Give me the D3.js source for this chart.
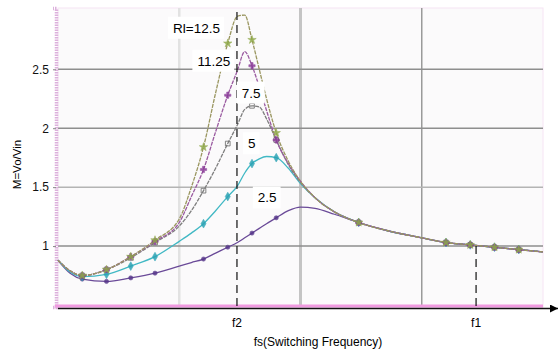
<!DOCTYPE html>
<html lang="en">
<head>
<meta charset="UTF-8">
<title>M vs fs</title>
<script src="https://cdn.jsdelivr.net/npm/d3@7"></script>
<style>
  body { margin: 0; background: #fff; }
  svg { display: block; font-family: "Liberation Sans", Arial, sans-serif; }
</style>
</head>
<body>
<svg width="558" height="354"></svg>
<script>
// normalised switching frequency (0..10 across the plot)
const freq = [0, 0.25, 0.5, 1.0, 1.5, 2.0, 2.5, 2.75, 3.0, 3.25, 3.5, 3.7, 3.85, 4.0, 4.15, 4.3, 4.5, 4.75, 5.0, 5.3, 5.7, 6.2, 6.8, 7.5, 8.0, 8.5, 9.0, 9.5, 10.0];

const gainRl125 = [0.88, 0.79, 0.75, 0.80, 0.91, 1.05, 1.23, 1.50, 1.84, 2.30, 2.72, 2.95, 2.96, 2.75, 2.50, 2.25, 1.96, 1.72, 1.55, 1.41, 1.29, 1.20, 1.13, 1.07, 1.03, 1.01, 0.99, 0.97, 0.95];
const gainRl1125 = [0.88, 0.79, 0.75, 0.80, 0.91, 1.04, 1.20, 1.42, 1.65, 1.97, 2.28, 2.49, 2.65, 2.53, 2.35, 2.15, 1.90, 1.70, 1.55, 1.41, 1.29, 1.20, 1.13, 1.07, 1.03, 1.01, 0.99, 0.97, 0.95];
const gainRl75 = [0.88, 0.79, 0.75, 0.80, 0.90, 1.03, 1.17, 1.30, 1.47, 1.66, 1.87, 2.03, 2.16, 2.19, 2.18, 2.08, 1.90, 1.69, 1.54, 1.41, 1.29, 1.20, 1.13, 1.07, 1.03, 1.01, 0.99, 0.97, 0.95];
const gainRl5 = [0.88, 0.78, 0.74, 0.76, 0.83, 0.91, 1.04, 1.11, 1.19, 1.30, 1.42, 1.51, 1.62, 1.70, 1.74, 1.76, 1.75, 1.66, 1.53, 1.41, 1.29, 1.20, 1.13, 1.07, 1.03, 1.01, 0.99, 0.97, 0.95];
const gainRl25 = [0.88, 0.77, 0.72, 0.70, 0.73, 0.77, 0.83, 0.86, 0.89, 0.94, 0.99, 1.03, 1.07, 1.11, 1.15, 1.19, 1.24, 1.30, 1.33, 1.32, 1.27, 1.20, 1.13, 1.07, 1.03, 1.01, 0.99, 0.97, 0.95];

const seriesNames = ["Rl=12.5", "11.25", "7.5", "5", "2.5"];
const yTicks = [1, 1.5, 2, 2.5];
const xMarks = [{ label: "f2", x: 3.69 }, { label: "f1", x: 8.62 }];
const markerFreq = [0.5, 1.0, 1.5, 2.0, 3.0, 3.5, 4.0, 4.5, 6.2, 8.0, 8.5, 9.0, 9.5];

const series = [
  { name: seriesNames[0], values: gainRl125, color: "#9a9660", mark: "#8ea848", symbol: d3.symbolStar },
  { name: seriesNames[1], values: gainRl1125, color: "#9a5aa0", mark: "#8a3a98", symbol: d3.symbolCross },
  { name: seriesNames[2], values: gainRl75, color: "#7e7e7e", mark: "#6e6e6e", symbol: d3.symbolSquare },
  { name: seriesNames[3], values: gainRl5, color: "#40b8c4", mark: "#2aa2b4", symbol: d3.symbolDiamond },
  { name: seriesNames[4], values: gainRl25, color: "#6a4a98", mark: "#56368a", symbol: d3.symbolCircle }
];

// label anchors in data units: [freq, gain, text-anchor]
const labelAt = [[3.34, 2.81, "end"], [3.55, 2.53, "end"], [3.79, 2.26, "start"], [3.92, 1.83, "start"], [4.12, 1.37, "start"]];

const plotL = 58, plotR = 543, plotT = 8, plotB = 307;
const x = d3.scaleLinear().domain([0, 10]).range([plotL, plotR]);
const y = d3.scaleLinear().domain([0.483, 3.02]).range([plotB, plotT]);

const svg = d3.select("svg");

svg.append("defs").append("marker")
  .attr("id", "arrow")
  .attr("viewBox", "0 0 10 10")
  .attr("refX", 10).attr("refY", 5)
  .attr("markerWidth", 8).attr("markerHeight", 8)
  .attr("markerUnits", "userSpaceOnUse")
  .attr("orient", "auto")
  .append("path").attr("d", "M0,0L10,5L0,10Z").attr("fill", "#000");

// plot background
svg.append("rect")
  .attr("x", plotL).attr("y", plotT)
  .attr("width", plotR - plotL).attr("height", plotB - plotT)
  .attr("fill", "#fbfafb")
  .attr("stroke", "#f6e4f4").attr("stroke-width", 1);

// vertical grid
const vGrid = [[2.5, "#e2e2e2", 2.5], [5, "#c4c4c4", 3], [7.5, "#9a9a9a", 1.5]];
svg.append("g").selectAll("line").data(vGrid).join("line")
  .attr("x1", d => x(d[0])).attr("x2", d => x(d[0]))
  .attr("y1", plotT).attr("y2", plotB)
  .attr("stroke", d => d[1]).attr("stroke-width", d => d[2]);

// horizontal grid
svg.append("g").selectAll("line").data(yTicks).join("line")
  .attr("x1", plotL).attr("x2", plotR)
  .attr("y1", d => y(d)).attr("y2", d => y(d))
  .attr("stroke", d => d === 1.5 ? "#b4b4b4" : "#8e8e8e")
  .attr("stroke-width", 1.5);

// y axis
const yAxis = svg.append("g")
  .attr("transform", `translate(${plotL - 2},0)`)
  .call(d3.axisLeft(y).tickValues(yTicks).tickSize(3).tickFormat(d3.format("")));
yAxis.select(".domain").attr("stroke", "#dcb0dc").attr("stroke-width", 3.5)
  .attr("stroke-dasharray", "1.5,1");
yAxis.selectAll(".tick line").attr("stroke", "#888");
yAxis.selectAll(".tick text").attr("font-size", 12).attr("fill", "#111").attr("dx", -1);

svg.append("text")
  .attr("transform", `translate(21,${(plotT + plotB) / 2 + 7}) rotate(-90)`)
  .attr("text-anchor", "middle")
  .attr("font-size", 11.5)
  .text("M=Vo/Vin");

// bottom axis band + arrow
svg.append("line")
  .attr("x1", plotL - 3).attr("x2", plotR)
  .attr("y1", plotB - 1).attr("y2", plotB - 1)
  .attr("stroke", "#f09ae0").attr("stroke-width", 3);
svg.append("line")
  .attr("x1", plotL).attr("x2", 558)
  .attr("y1", plotB + 1.5).attr("y2", plotB + 1.5)
  .attr("stroke", "#111").attr("stroke-width", 1.3)
  .attr("marker-end", "url(#arrow)");

const line = d3.line()
  .x((d, i) => x(freq[i]))
  .y(d => y(d))
  .curve(d3.curveMonotoneX);

// curves, weakest load drawn last
series.slice().reverse().forEach(s => {
  svg.append("path")
    .attr("d", line(s.values))
    .attr("fill", "none")
    .attr("stroke", s.color)
    .attr("stroke-width", 1.3)
    .attr("stroke-dasharray", s.name === "2.5" || s.name === "5" ? null : "4,1");
});

series.slice().reverse().forEach(s => {
  const pts = markerFreq.map(f => [f, s.values[freq.indexOf(f)]]);
  svg.append("g").selectAll("path").data(pts).join("path")
    .attr("transform", d => `translate(${x(d[0])},${y(d[1])})`)
    .attr("d", d3.symbol().type(s.symbol).size(s.symbol === d3.symbolCircle ? 14 : 22))
    .attr("fill", s.symbol === d3.symbolSquare ? "none" : s.mark)
    .attr("stroke", s.mark)
    .attr("stroke-width", s.symbol === d3.symbolSquare ? 1 : 0.6)
    .attr("opacity", 0.85);
});

// f2 / f1 dashed markers
svg.append("line")
  .attr("x1", x(xMarks[0].x)).attr("x2", x(xMarks[0].x))
  .attr("y1", 12).attr("y2", plotB)
  .attr("stroke", "#111").attr("stroke-width", 1.2)
  .attr("stroke-dasharray", "8,5");
svg.append("line")
  .attr("x1", x(xMarks[1].x)).attr("x2", x(xMarks[1].x))
  .attr("y1", y(1.0)).attr("y2", plotB)
  .attr("stroke", "#111").attr("stroke-width", 1.2)
  .attr("stroke-dasharray", "8,5");

svg.append("g").selectAll("text").data(xMarks).join("text")
  .attr("x", d => x(d.x)).attr("y", 327)
  .attr("text-anchor", "middle")
  .attr("font-size", 12)
  .text(d => d.label);

svg.append("text")
  .attr("x", 318).attr("y", 346)
  .attr("text-anchor", "middle")
  .attr("font-size", 12)
  .text("fs(Switching Frequency)");

// series labels on white boxes
const lab = svg.append("g");
seriesNames.forEach((name, i) => {
  const [fx, gv, anchor] = labelAt[i];
  const g = lab.append("g");
  const t = g.append("text")
    .attr("x", x(fx)).attr("y", y(gv))
    .attr("text-anchor", anchor)
    .attr("font-size", 13.5)
    .text(name);
  const b = t.node().getBBox();
  g.insert("rect", "text")
    .attr("x", b.x - 5).attr("y", b.y - 4)
    .attr("width", b.width + 9).attr("height", b.height + 7)
    .attr("fill", "#fff");
});
</script>
</body>
</html>
